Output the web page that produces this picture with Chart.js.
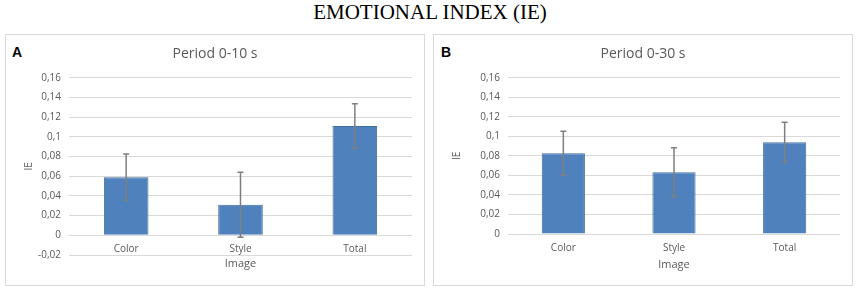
<!DOCTYPE html>
<html>
<head>
<meta charset="utf-8">
<script src="https://cdn.jsdelivr.net/npm/chart.js@4.4.0/dist/chart.umd.min.js"></script>
<style>
body { margin: 0; width: 856px; height: 290px; background: #fff; position: relative; overflow: hidden; }
#mainTitle { position: absolute; left: 2px; top: 2px; width: 856px; text-align: center;
  font: 21px/21px "Liberation Serif", "Times New Roman", serif; color: #000; }
.panel { position: absolute; top: 34px; width: 418px; height: 250px; border: 1px solid #d9d9d9; background: #fff; }
.panel canvas { position: absolute; left: 0; top: 0; }
.letter { position: absolute; top: 10px; font: bold 14px/14px "Liberation Sans", Arial, sans-serif; color: #000; }
</style>
</head>
<body>
<div id="mainTitle">EMOTIONAL INDEX (IE)</div>
<div class="panel" style="left:5px"><div class="letter" style="left:6px">A</div><canvas id="chartA" width="418" height="250"></canvas></div>
<div class="panel" style="left:433px"><div class="letter" style="left:7px">B</div><canvas id="chartB" width="418" height="250"></canvas></div>
<script>
const categories = ['Color', 'Style', 'Total'];

// Panel A: period 0-10 s
const valuesA = [0.059, 0.031, 0.111];
const errorsA = [0.0235, 0.033, 0.0225];
const ticksA = [-0.02, 0, 0.02, 0.04, 0.06, 0.08, 0.1, 0.12, 0.14, 0.16];

// Panel B: period 0-30 s
const valuesB = [0.0826, 0.0632, 0.0938];
const errorsB = [0.0225, 0.025, 0.0206];
const ticksB = [0, 0.02, 0.04, 0.06, 0.08, 0.1, 0.12, 0.14, 0.16];

Chart.defaults.font.family = "'Open Sans', sans-serif";
Chart.defaults.color = '#595959';

const fmt = v => String(+v.toFixed(2)).replace('.', ',');

// draws the error bars from the errors array of each chart
const errorBars = {
    id: 'errorBars',
    afterDatasetsDraw(chart, args, opts) {
        const ctx = chart.ctx;
        const y = chart.scales.y;
        const meta = chart.getDatasetMeta(0);
        const vals = chart.data.datasets[0].data;
        ctx.save();
        ctx.strokeStyle = '#7f7f7f';
        ctx.lineWidth = 1.5;
        meta.data.forEach((bar, i) => {
            const top = y.getPixelForValue(vals[i] + opts.errors[i]);
            const bot = y.getPixelForValue(vals[i] - opts.errors[i]);
            ctx.beginPath();
            ctx.moveTo(bar.x, top); ctx.lineTo(bar.x, bot);
            ctx.moveTo(bar.x - 3, top); ctx.lineTo(bar.x + 3, top);
            ctx.moveTo(bar.x - 3, bot); ctx.lineTo(bar.x + 3, bot);
            ctx.stroke();
        });
        ctx.restore();
    }
};

const makeChart = (id, title, values, errors, ticks, cfg) => {
    const ctx = document.getElementById(id).getContext('2d');
    return new Chart(ctx, {
        type: 'bar',
        data: {
            labels: categories,
            datasets: [{
                data: values,
                backgroundColor: '#4f81bd',
                borderColor: '#41719c',
                borderWidth: 1,
                categoryPercentage: 1,
                barPercentage: 0.39
            }]
        },
        plugins: [errorBars],
        options: {
            responsive: false,
            animation: false,
            // equal side padding keeps the title centred on the panel
            layout: { padding: { left: 12, right: 12, top: 0, bottom: cfg.bottom } },
            plugins: {
                legend: { display: false },
                tooltip: { enabled: false },
                title: {
                    display: true,
                    text: title,
                    color: '#595959',
                    font: { size: 14, weight: 'normal' },
                    padding: { top: 10.6, bottom: 15.3 }
                },
                errorBars: { errors: errors }
            },
            scales: {
                x: {
                    position: { y: 0 },
                    grid: { display: false, drawTicks: false },
                    border: { display: false },
                    ticks: { padding: 8, font: { size: 10 }, color: '#595959' },
                    title: { display: true, text: 'Image', color: '#595959',
                        font: { size: 11 }, padding: { top: cfg.xTitlePad, bottom: 0 } }
                },
                y: {
                    min: ticks[0],
                    max: ticks[ticks.length - 1],
                    afterBuildTicks: s => { s.ticks = ticks.map(v => ({ value: v })); },
                    afterFit: s => { s.width = cfg.yWidth; },
                    grid: { color: '#d9d9d9', lineWidth: 1, drawTicks: false },
                    border: { display: false },
                    ticks: { padding: 8, font: { size: 10 }, color: '#595959', callback: v => fmt(v) },
                    title: { display: true, text: 'IE', color: '#595959',
                        font: { size: 10 }, padding: { top: 5, bottom: 0 } }
                }
            }
        }
    });
};

makeChart('chartA', 'Period 0-10 s', valuesA, errorsA, ticksA, { bottom: 30, yWidth: 51, xTitlePad: -5.6 });
makeChart('chartB', 'Period 0-30 s', valuesB, errorsB, ticksB, { bottom: 51, yWidth: 62, xTitlePad: -3.9 });
</script>
</body>
</html>
